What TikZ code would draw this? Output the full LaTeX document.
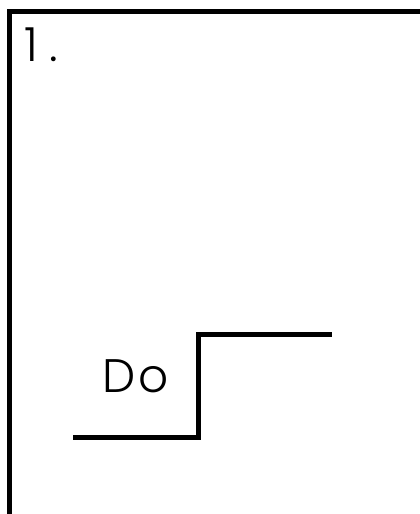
\documentclass[tikz,border=0pt]{standalone}
\usepackage{fontspec}
\setmainfont{Poppins Light}[LetterSpace=6]
\begin{document}
\begin{tikzpicture}[x=1pt,y=1pt,
  frameline/.style={line width=5.5pt,line cap=rect},
  stepline/.style={line width=5pt},
  label/.style={inner sep=0pt,anchor=base west,font=\fontsize{47}{50}\selectfont}]
\useasboundingbox (0,0) rectangle (420,514);
% open frame: top and left edges
\coordinate (ftr) at (425,502.5);
\coordinate (ftl) at (9.5,502.5);
\coordinate (fbl) at (9.5,-5);
\draw[frameline] (ftr) -- (ftl) -- (fbl);
% step
\coordinate (s1) at (73,76);
\coordinate (s2) at (198,76);
\coordinate (s3) at (198,179);
\coordinate (s4) at (332,179);
\draw[stepline] (s1) -- (s2) -- (s3) -- (s4);
% labels
\node[label,font=\fontsize{47}{50}\selectfont\addfontfeatures{LetterSpace=25}] (num) at (24,452) {1.};
\node[label] (do) at (102,121) {Do};
\end{tikzpicture}
\end{document}
